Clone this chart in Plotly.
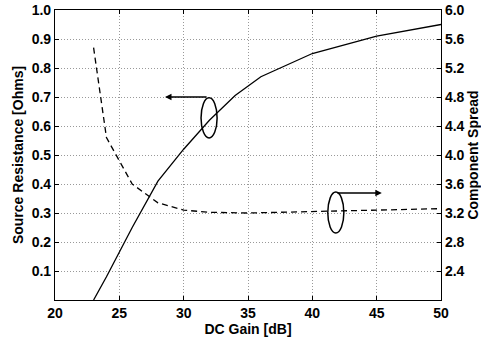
import plotly.graph_objects as go

gain_r = [23, 24, 26, 28, 30, 32, 34, 36, 40, 45, 50]
resistance = [0.0, 0.08, 0.25, 0.41, 0.52, 0.62, 0.705, 0.77, 0.85, 0.91, 0.95]

gain_s = [23, 24, 26, 28, 30, 32, 35, 40, 45, 50]
spread = [5.48, 4.24, 3.60, 3.34, 3.24, 3.21, 3.20, 3.22, 3.24, 3.26]

x_ticks = [20, 25, 30, 35, 40, 45, 50]
y1_ticks = [0.1, 0.2, 0.3, 0.4, 0.5, 0.6, 0.7, 0.8, 0.9, 1.0]
y2_ticks = [2.4, 2.8, 3.2, 3.6, 4.0, 4.4, 4.8, 5.2, 5.6, 6.0]

FONT = "Liberation Sans"
tickfont = dict(family=FONT, size=14, color="black", weight="bold")
titlefont = dict(family=FONT, size=14, color="black", weight="bold")
GRID = dict(showgrid=True, gridcolor="#999999", griddash="1px,2px", gridwidth=1)

fig = go.Figure()
fig.add_trace(go.Scatter(x=gain_r, y=resistance, mode="lines",
                         line=dict(color="black", width=1.3), yaxis="y"))
fig.add_trace(go.Scatter(x=gain_s, y=spread, mode="lines",
                         line=dict(color="black", width=1.3, dash="6px,4px"), yaxis="y2"))

# ellipses
fig.add_shape(type="circle", xref="x", yref="y", x0=31.35, x1=32.6, y0=0.559, y1=0.697,
              line=dict(color="black", width=1.5))
fig.add_shape(type="circle", xref="x", yref="y", x0=41.2, x1=42.45, y0=0.231, y1=0.372,
              line=dict(color="black", width=1.5))

# arrows
fig.add_annotation(x=28.55, y=0.70, ax=31.9, ay=0.70, xref="x", yref="y", axref="x", ayref="y",
                   showarrow=True, arrowhead=2, arrowsize=1, arrowwidth=1.3, arrowcolor="black", text="")
fig.add_annotation(x=45.4, y=0.369, ax=41.83, ay=0.369, xref="x", yref="y", axref="x", ayref="y",
                   showarrow=True, arrowhead=2, arrowsize=1, arrowwidth=1.3, arrowcolor="black", text="")

fig.update_layout(
    width=481, height=342,
    margin=dict(l=55, r=40, t=10, b=42, autoexpand=False),
    paper_bgcolor="white", plot_bgcolor="white",
    showlegend=False,
    xaxis=dict(range=[20, 50], tickvals=x_ticks, ticktext=[f"<b>{v}</b>" for v in x_ticks],
               **GRID, automargin=False,
               showline=True, linecolor="black", linewidth=1.2, mirror="ticks",
               ticks="inside", ticklen=4, tickcolor="black", tickfont=tickfont,
               title=dict(text="<b>DC Gain [dB]</b>", font=titlefont, standoff=0), zeroline=False),
    yaxis=dict(range=[0, 1], tickvals=y1_ticks, ticktext=[f"<b>{v:.1f}</b>" for v in y1_ticks],
               **GRID, automargin=False,
               showline=True, linecolor="black", linewidth=1.2,
               ticks="inside", ticklen=4, tickcolor="black", tickfont=tickfont,
               title=dict(text="<b>Source Resistance [Ohms]</b>", font=titlefont, standoff=4), zeroline=False),
    yaxis2=dict(range=[2, 6], tickvals=y2_ticks, ticktext=[f"<b>{v:.1f}</b>" for v in y2_ticks],
                overlaying="y", side="right", showgrid=False, automargin=False,
                showline=True, linecolor="black", linewidth=1.2,
                ticks="inside", ticklen=4, tickcolor="black", tickfont=tickfont,
                title=dict(text="<b>Component Spread</b>", font=titlefont, standoff=4), zeroline=False),
)

fig.write_html("out.html")
